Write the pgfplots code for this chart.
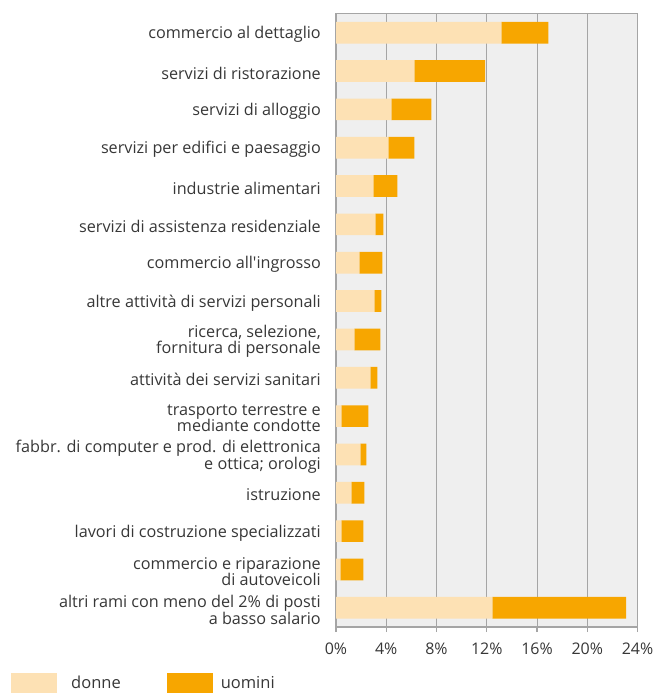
\documentclass[border=0pt]{standalone}
\usepackage{pgfplots}
\pgfplotsset{compat=1.18}
\usepackage{fontspec}
\setmainfont{Open Sans}
\definecolor{donne}{RGB}{253,225,180}
\definecolor{uomini}{RGB}{247,166,0}
\definecolor{bgc}{RGB}{239,239,239}
\definecolor{gridc}{RGB}{165,165,165}
\definecolor{txt}{RGB}{55,55,55}
\begin{document}
\begin{tikzpicture}[x=1pt,y=1pt]
\useasboundingbox (0,0) rectangle (654,693);
\begin{axis}[
  at={(336pt,66pt)}, anchor=south west,
  scale only axis, width=301.5pt, height=613.5pt,
  xbar stacked, bar width=21.7pt,
  xmin=0, xmax=24, ymin=-0.5, ymax=15.5, y dir=reverse,
  axis background/.style={fill=bgc},
  axis line style={draw=gridc, line width=1.2pt},
  xmajorgrids, grid style={draw=gridc, line width=1pt},
  xtick={0,4,...,24}, xtick pos=bottom, tick align=outside,
  major tick length=5pt, xtick style={draw=gridc, line width=1.2pt},
  xticklabel={\pgfmathprintnumber{\tick}\%},
  /pgf/number format/assume math mode=true,
  xticklabel style={font=\fontsize{16}{17}\selectfont, text=txt, yshift=-7pt},
  ytick={0,...,15}, ytick style={draw=none},
  yticklabel style={font=\fontsize{16.2}{16.7}\selectfont, text=txt, align=right, inner sep=0pt, xshift=-10pt, yshift=-2pt},
  yticklabels={commercio al dettaglio, servizi di ristorazione, servizi di alloggio, servizi per edifici e paesaggio, industrie alimentari, servizi di assistenza residenziale, commercio all\textquotesingle ingrosso, altre attività di servizi personali, {ricerca, selezione,\\fornitura di personale}, attività dei servizi sanitari, trasporto terrestre e\\mediante condotte, fabbr. di computer e prod. di elettronica\\e ottica; orologi, istruzione, lavori di costruzione specializzati, commercio e riparazione\\di autoveicoli, altri rami con meno del 2\% di posti\\a basso salario},
  legend columns=2,
  legend style={at={(-1.078,-0.075)}, anchor=north west, draw=none, fill=none, inner sep=0pt,
    font=\fontsize{16.5}{17}\selectfont, text=txt,
    /tikz/every even column/.append style={column sep=44pt}},
  legend image code/.code={\fill[#1] (0pt,-10pt) rectangle (46pt,10pt);},
  legend cell align=left,
]
\addplot[fill=donne, draw=none] coordinates {
(13.16,0) (6.23,1) (4.40,2) (4.16,3) (2.97,4) (3.13,5) (1.86,6) (3.05,7)
(1.46,8) (2.73,9) (0.42,10) (1.94,11) (1.22,12) (0.42,13) (0.34,14) (12.44,15)};
\addplot[fill=uomini, draw=none] coordinates {
(3.74,0) (5.65,1) (3.19,2) (2.07,3) (1.91,4) (0.64,5) (1.83,6) (0.56,7)
(2.07,8) (0.56,9) (2.15,10) (0.47,11) (1.03,12) (1.75,13) (1.83,14) (10.66,15)};
\legend{\hspace{12pt}donne, \hspace{6pt}uomini}
\end{axis}
\end{tikzpicture}
\end{document}
